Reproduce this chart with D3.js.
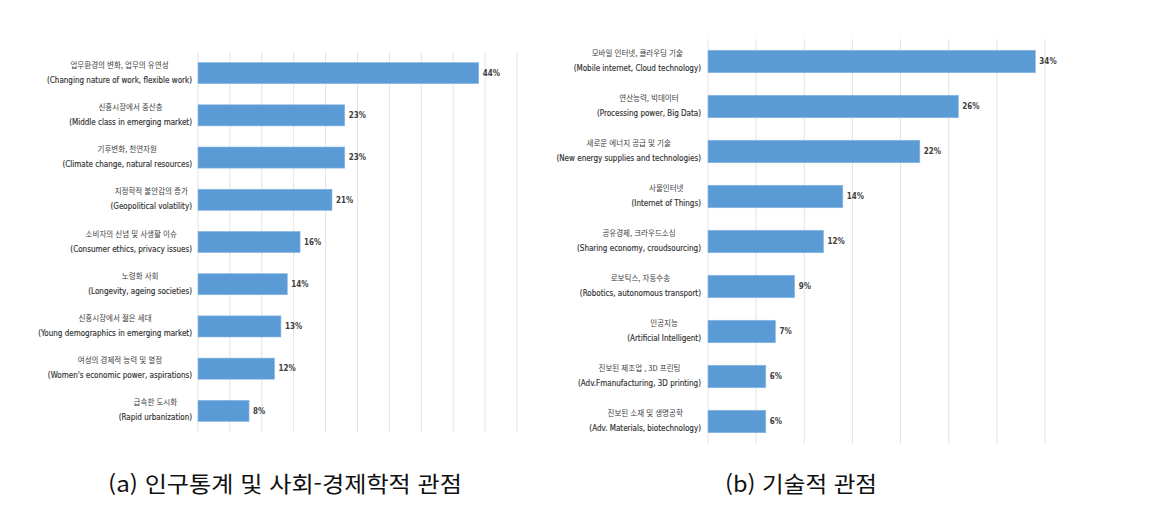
<!DOCTYPE html>
<html lang="ko">
<head>
<meta charset="UTF-8" />
<title>Megatrends</title>
<style>
  * { margin: 0; padding: 0; }
  body { background: #fff; }
  svg { display: block; }
</style>
</head>
<body>
<svg id="chart" width="1159" height="510"></svg>
<script src="https://d3js.org/d3.v7.min.js"></script>
<script>
// (a) 인구통계 및 사회-경제학적 관점
const socialKo = [
  "업무환경의 변화, 업무의 유연성",
  "신흥시장에서 중산층",
  "기후변화, 천연자원",
  "지정학적 불안감의 증가",
  "소비자의 신념 및 사생활 이슈",
  "노령화 사회",
  "신흥시장에서 젊은 세대",
  "여성의 경제적 능력 및 열정",
  "급속한 도시화"
];
const socialEn = [
  "(Changing  nature of work, flexible  work)",
  "(Middle  class in  emerging  market)",
  "(Climate  change, natural resources)",
  "(Geopolitical  volatility)",
  "(Consumer  ethics, privacy issues)",
  "(Longevity, ageing societies)",
  "(Young demographics  in emerging  market)",
  "(Women's  economic  power, aspirations)",
  "(Rapid  urbanization)"
];
const socialValues = [44, 23, 23, 21, 16, 14, 13, 12, 8];

// (b) 기술적 관점
const techKo = [
  "모바일 인터넷, 클라우딩 기술",
  "연산능력, 빅데이터",
  "새로운 에너지 공급 및 기술",
  "사물인터넷",
  "공유경제, 크라우드소싱",
  "로보틱스, 자동수송",
  "인공지능",
  "진보된 제조업 , 3D 프린팅",
  "진보된 소재 및 생명공학"
];
const techEn = [
  "(Mobile  internet, Cloud  technology)",
  "(Processing power, Big Data)",
  "(New energy supplies  and technologies)",
  "(Internet of Things)",
  "(Sharing  economy, croudsourcing)",
  "(Robotics, autonomous  transport)",
  "(Artificial  Intelligent)",
  "(Adv.Fmanufacturing,  3D printing)",
  "(Adv. Materials, biotechnology)"
];
const techValues = [34, 26, 22, 14, 12, 9, 7, 6, 6];

const captionA = "(a) 인구통계 및 사회-경제학적 관점";
const captionB = "(b) 기술적 관점";

const svg = d3.select("#chart");
const koFont = "'Noto Sans CJK KR', 'Noto Sans', sans-serif";
const enFont = "'Liberation Sans Narrow', 'DejaVu Sans Condensed', 'Liberation Sans', sans-serif";

function drawPanel(cfg) {
  const { ko, en, values, left, right, top, bottom, max, labelRight, lineGap } = cfg;
  const g = svg.append("g");

  const x = d3.scaleLinear().domain([0, max]).range([left, right]);
  const y = d3.scaleBand().domain(d3.range(values.length)).range([top, bottom]).paddingInner(0.5).paddingOuter(0.25);

  // gridlines every 5%
  g.append("g")
    .selectAll("line")
    .data(d3.range(0, max + 0.01, 5))
    .join("line")
    .attr("x1", d => x(d)).attr("x2", d => x(d))
    .attr("y1", top).attr("y2", bottom)
    .attr("stroke", "#e3e3e3")
    .attr("stroke-width", 1);

  g.append("g")
    .selectAll("rect")
    .data(values)
    .join("rect")
    .attr("x", x(0))
    .attr("y", (d, i) => y(i))
    .attr("width", d => x(d) - x(0))
    .attr("height", y.bandwidth())
    .attr("fill", "#5b9bd5")
    .attr("stroke", "#8db8e3")
    .attr("stroke-width", 0.6);

  g.append("g")
    .selectAll("text")
    .data(values)
    .join("text")
    .attr("x", d => x(d) + 4)
    .attr("y", (d, i) => y(i) + y.bandwidth() / 2)
    .attr("dy", "0.35em")
    .attr("font-family", enFont)
    .attr("font-size", 8)
    .attr("font-weight", "bold")
    .attr("fill", "#404040")
    .text(d => d + "%");

  // two-line category labels, centred on each other, right-aligned as a block
  const labels = g.append("g")
    .selectAll("g")
    .data(values.map((v, i) => i))
    .join("g");

  labels.each(function (i) {
    const lg = d3.select(this);
    const cy = y(i) + y.bandwidth() / 2;
    const t1 = lg.append("text")
      .attr("y", cy - lineGap / 2 + 1)
      .attr("font-family", koFont)
      .attr("font-size", 7.5)
      .attr("fill", "#404040")
      .attr("text-anchor", "middle")
      .text(ko[i]);
    const t2 = lg.append("text")
      .attr("y", cy + lineGap / 2 + 3)
      .attr("font-family", enFont)
      .attr("font-size", 8)
      .attr("fill", "#333")
      .attr("stroke", "#333")
      .attr("stroke-width", 0.15)
      .attr("text-anchor", "middle")
      .text(en[i].replace(/  /g, " "));
    const w = Math.max(t1.node().getComputedTextLength(), t2.node().getComputedTextLength());
    t1.attr("x", labelRight - w / 2);
    t2.attr("x", labelRight - w / 2);
  });
}

drawPanel({
  ko: socialKo, en: socialEn, values: socialValues,
  left: 198, right: 517, top: 52, bottom: 432, max: 50,
  labelRight: 192, lineGap: 13
});

drawPanel({
  ko: techKo, en: techEn, values: techValues,
  left: 708, right: 1045, top: 39, bottom: 444, max: 35,
  labelRight: 701, lineGap: 13
});

svg.append("text")
  .attr("x", 108).attr("y", 492)
  .attr("font-family", koFont)
  .attr("font-size", 22)
  .attr("fill", "#111")
  .attr("textLength", 354)
  .attr("lengthAdjust", "spacingAndGlyphs")
  .text(captionA);

svg.append("text")
  .attr("x", 725).attr("y", 492)
  .attr("font-family", koFont)
  .attr("font-size", 22)
  .attr("fill", "#111")
  .attr("textLength", 152)
  .attr("lengthAdjust", "spacingAndGlyphs")
  .text(captionB);
</script>
</body>
</html>
